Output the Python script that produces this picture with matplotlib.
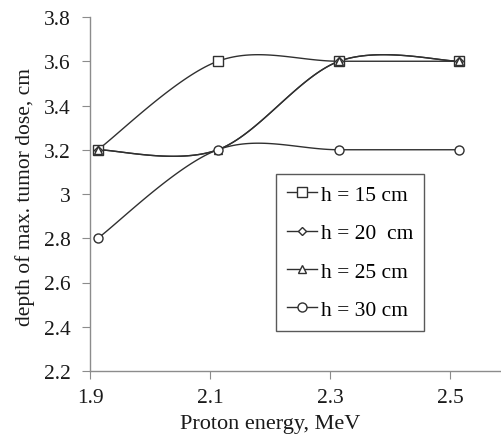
import numpy as np
import matplotlib
matplotlib.use("Agg")
import matplotlib.pyplot as plt
from matplotlib.lines import Line2D

plt.rcParams['font.family'] = ['Liberation Serif', 'DejaVu Serif']

energy = [1.913, 2.113, 2.315, 2.515]
labels = ["h = 15 cm", "h = 20  cm", "h = 25 cm", "h = 30 cm"]
h15 = [3.2, 3.6, 3.6, 3.6]
h20 = [3.2, 3.2, 3.6, 3.6]
h25 = [3.2, 3.2, 3.6, 3.6]
h30 = [2.8, 3.2, 3.2, 3.2]
markers = ['s', 'D', '^', 'o']
msizes = [6.5, 4, 6, 6.5]
series = [h15, h20, h25, h30]
xticks = [1.9, 2.1, 2.3, 2.5]
yticks = [2.2, 2.4, 2.6, 2.8, 3.0, 3.2, 3.4, 3.6, 3.8]


def smooth(x, y, n=40):
    x = np.asarray(x, float)
    y = np.asarray(y, float)
    px = np.concatenate([[x[0]], x, [x[-1]]])
    py = np.concatenate([[y[0]], y, [y[-1]]])
    xs, ys = [], []
    for i in range(1, len(px) - 2):
        p0, p1, p2, p3 = [np.array([px[j], py[j]]) for j in (i - 1, i, i + 1, i + 2)]
        c1 = p1 + (p2 - p0) / 6
        c2 = p2 - (p3 - p1) / 6
        t = np.linspace(0, 1, n)[:, None]
        b = (1 - t) ** 3 * p1 + 3 * (1 - t) ** 2 * t * c1 + 3 * (1 - t) * t ** 2 * c2 + t ** 3 * p2
        xs.append(b[:, 0])
        ys.append(b[:, 1])
    return np.concatenate(xs), np.concatenate(ys)


fig = plt.figure(figsize=(5.01, 4.35), dpi=100)
ax = fig.add_axes([90 / 501, 1 - 372 / 435, 420 / 501, 354 / 435])

handles = []
for vals, m, ms, lab in zip(series, markers, msizes, labels):
    sx, sy = smooth(energy, vals)
    ax.plot(sx, sy, color='#303030', lw=1.0, zorder=2)
    ax.plot(energy, vals, linestyle='none', marker=m, ms=ms, mfc='white',
            mec='#303030', mew=1.0, zorder=3)
    handles.append(Line2D([0], [0], color='#303030', lw=1.0, marker=m, ms=ms,
                          mfc='white', mec='#303030', mew=1.0))

ax.set_xlim(1.9, 2.6)
ax.set_ylim(2.2, 3.8)
ax.set_xticks(xticks)
ax.set_xticklabels([f"{v:.1f}" for v in xticks])
ax.set_yticks(yticks)
ax.set_yticklabels([f"{v:g}" for v in yticks])
for s in ['top', 'right']:
    ax.spines[s].set_visible(False)
for s in ['left', 'bottom']:
    ax.spines[s].set_color('#8c8c8c')
    ax.spines[s].set_linewidth(1.0)
ax.tick_params(axis='both', direction='out', length=6, color='#8c8c8c',
               labelsize=15.5, labelcolor='#1a1a1a')
ax.tick_params(axis='y', pad=8)
ax.tick_params(axis='x', pad=6)

leg = ax.legend(handles, labels, loc='upper left', bbox_to_anchor=((276 - 90) / 420, (372 - 175) / 354),
                fontsize=15.5, frameon=True, fancybox=False, handlelength=1.4,
                handletextpad=0.2, borderpad=0.5, labelspacing=0.85, borderaxespad=0)
leg.get_frame().set_edgecolor('#303030')
leg.get_frame().set_linewidth(1.0)

fig.text(270 / 501, 1 - 425 / 435, "Proton energy, MeV", ha='center', va='center',
         fontsize=16, color='#1a1a1a')
fig.text(25 / 501, 1 - 197 / 435, "depth of max. tumor dose, cm", ha='center', va='center',
         rotation=90, fontsize=15.5, color='#1a1a1a')

fig.savefig("out.png", dpi=100)
